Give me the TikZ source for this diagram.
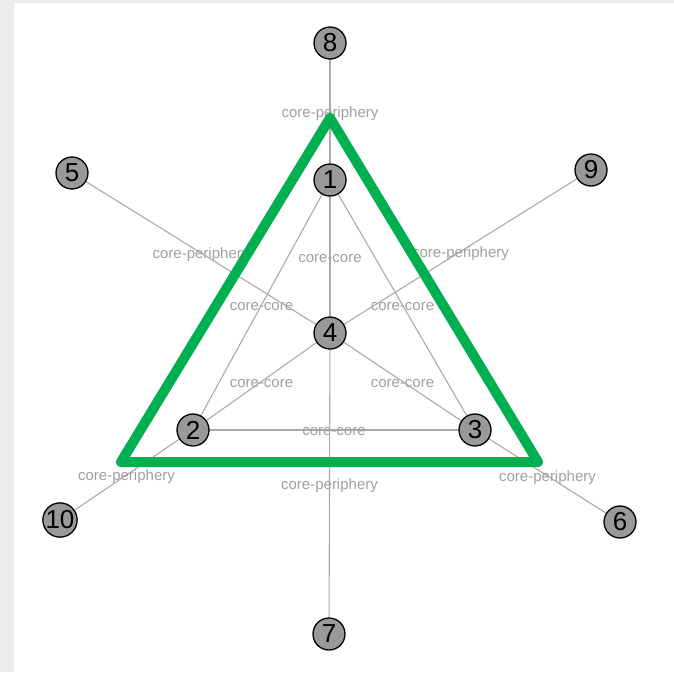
\documentclass[tikz,border=0pt]{standalone}
\usepackage{fontspec}
\setmainfont{Liberation Sans}
\usepackage{xcolor}
\usepackage{tikz}
\usetikzlibrary{positioning, calc}
\definecolor{pagegray}{RGB}{236,236,236}
\definecolor{edgegray}{RGB}{170,170,170}
\definecolor{labelgray}{RGB}{160,160,160}
\definecolor{nodegray}{RGB}{153,153,153}
\definecolor{coregreen}{RGB}{0,176,80}
\pgfdeclarelayer{pagebg}
\pgfdeclarelayer{links}
\pgfsetlayers{pagebg,links,main}

\begin{document}
\begin{tikzpicture}[
    x=1pt, y=-1pt,
    vertex/.style={circle, draw=black, line width=1.3pt, fill=nodegray, minimum size=32pt, inner sep=0pt, font=\fontsize{26}{26}\selectfont},
    link/.style={draw=edgegray, line width=1.1pt},
    tag/.style={midway, yshift=-2pt, text=labelgray, inner sep=0pt, font=\fontsize{15}{15}\selectfont}
]

% Background
\begin{pgfonlayer}{pagebg}
\fill[pagegray] (0,0) rectangle (674,672);
\fill[white] (14,3) rectangle (674,672);
\end{pgfonlayer}
\useasboundingbox (0,0) rectangle (674,672);

% Vertices
\node[vertex] (n1) at (330,180) {1};
\node[vertex] (n2) at (193,430) {2};
\node[vertex] (n3) at (475,430) {3};
\node[vertex] (n4) at (330,333) {4};
\node[vertex] (n5) at (72,173) {5};
\node[vertex] (n6) at (620,522) {6};
\node[vertex] (n7) at (329,634) {7};
\node[vertex] (n8) at (330,43) {8};
\node[vertex] (n9) at (591,170) {9};
\node[vertex] (n10) at (60,520) {10};

% Edges
\begin{pgfonlayer}{links}
\draw[link] (n8.center) -- node[tag] {core-periphery} (n1.center);
\draw[link] (n1.center) -- node[tag] {core-core} (n4.center);
\draw[link] (n1.center) -- node[tag] {core-core} (n2.center);
\draw[link] (n1.center) -- node[tag] {core-core} (n3.center);
\draw[link] (n5.center) -- node[tag] {core-periphery} (n4.center);
\draw[link] (n9.center) -- node[tag] {core-periphery} (n4.center);
\draw[link] (n4.center) -- node[tag] {core-core} (n2.center);
\draw[link] (n4.center) -- node[tag] {core-core} (n3.center);
\draw[link] (n2.center) -- node[tag] {core-core} (n3.center);
\draw[link] (n4.center) -- node[tag] {core-periphery} (n7.center);
\draw[link] (n2.center) -- node[tag] {core-periphery} (n10.center);
\draw[link] (n3.center) -- node[tag] {core-periphery} (n6.center);
\end{pgfonlayer}

% Core triangle
\draw[coregreen, line width=10pt, line join=round] (330,118) -- (121,462) -- (538,462) -- cycle;

\end{tikzpicture}
\end{document}
